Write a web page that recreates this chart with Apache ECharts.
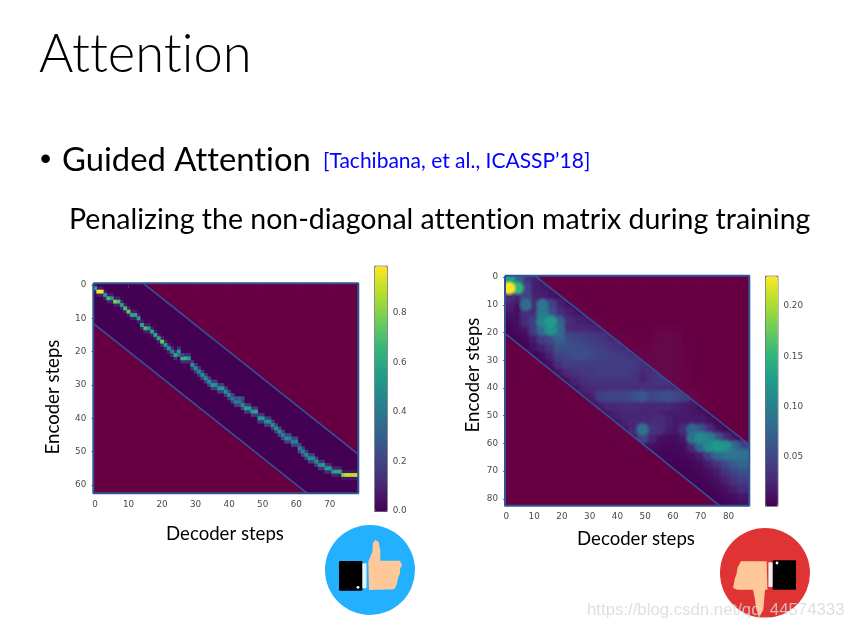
<!DOCTYPE html>
<html><head><meta charset="utf-8">
<style>html,body{margin:0;padding:0;background:#fff}#main{width:853px;height:629px;filter:blur(0.45px)}</style>
<script src="https://cdn.jsdelivr.net/npm/echarts@6/dist/echarts.min.js"></script>
</head><body><div id="main"></div>
<script>
// Slide text has no tt/ti ligatures: switch them off on every canvas context.
const origGetContext = HTMLCanvasElement.prototype.getContext;
HTMLCanvasElement.prototype.getContext = function(type, opts){
  const ctx = origGetContext.call(this, type, opts);
  if (type === '2d' && ctx && 'textRendering' in ctx) ctx.textRendering = 'optimizeSpeed';
  return ctx;
};

// ---------- left matrix: the attention path, one entry per decoder step
const leftDecoderCount = 79, leftEncoderCount = 63;
const leftPathEnc = [1,2,2,3,4,4,5,5,6,7,8,9,9,10,12,13,13,14,15,16,17,18,19,20,21,20,22,22,22,24,25,26,27,28,29,30,30,31,31,32,33,34,35,35,36,37,37,38,38,40,40,41,41,42,43,44,45,46,46,47,47,49,50,51,52,52,53,54,54,55,55,56,56,56,57,57,57,57,57];
const leftPathPeak = [.6,.98,.98,.55,.7,.55,.8,.7,.55,.7,.75,.6,.6,.55,.6,.7,.55,.6,.6,.6,.75,.55,.55,.45,.6,.55,.65,.65,.55,.5,.5,.45,.5,.5,.5,.55,.5,.5,.55,.5,.5,.4,.45,.4,.5,.6,.55,.55,.6,.55,.55,.5,.5,.5,.5,.5,.45,.5,.45,.45,.45,.45,.45,.5,.5,.5,.5,.5,.55,.55,.55,.55,.6,.6,.8,.9,.9,.9,.9];
const leftPathSide = [.06,.08,.08,.08,.08,.08,.08,.08,.08,.08,.08,.08,.08,.08,.08,.08,.08,.08,.08,.08,.1,.1,.1,.12,.12,.12,.12,.12,.12,.14,.16,.16,.18,.18,.18,.18,.18,.18,.18,.18,.18,.2,.2,.2,.2,.18,.18,.16,.16,.16,.16,.18,.18,.18,.18,.2,.2,.2,.2,.2,.2,.2,.2,.18,.18,.18,.18,.16,.14,.14,.12,.1,.1,.08,.06,.05,.05,.05,.05];
const leftExtraCells = [[43,34,.3],[44,34,.22],[42,34,.25],[41,33,.2],[25,21,.4],[26,21,.2]];
const leftColorbarTicks = [0,.2,.4,.6,.8];

// ---------- right matrix: attention read on a 3-by-3 step raster, in thousandths
const rightDecoderCount = 88, rightEncoderCount = 83;
const rightRaster = [
[130,70,34,20,10,8,5],
[232,150,45,20,15,12,8],
[30,22,50,22,20,12,10,8],
[20,10,80,26,90,45,20,10,8],
[12,10,30,30,95,55,30,20,12,10],
[5,10,28,45,105,125,70,30,22,18,12,8],
[2,8,12,40,80,115,80,30,26,26,22,18,10,5,0,0,0,0,14,18,14],
[0,3,5,18,42,50,72,50,46,42,38,34,26,18,10,5,0,10,30,36,30,5],
[0,0,0,10,22,34,58,56,54,50,46,42,34,30,18,10,5,18,36,42,36,8],
[0,0,4,0,8,22,45,50,56,56,50,46,42,38,34,26,20,24,38,42,36,12],
[0,0,6,0,0,10,30,42,42,42,42,42,42,42,42,38,30,30,38,42,36,14],
[0,0,5,0,0,0,12,26,34,38,38,42,42,42,42,34,25,30,38,40,34,16],
[0,0,4,0,0,0,5,10,22,30,34,34,34,34,34,34,20,30,36,34,28,18],
[0,0,2,0,0,0,0,5,10,22,26,30,30,30,30,26,32,32,30,30,25,15,8],
[0,0,0,0,0,0,0,3,5,10,18,42,48,48,48,56,62,48,52,58,48,42,26,8],
[0,0,0,0,0,0,0,0,3,5,10,18,26,26,30,30,26,26,26,26,22,18,14,5],
[0,0,0,0,0,0,0,0,0,3,6,8,14,22,26,26,22,26,22,18,18,18,14,10,4],
[0,0,0,0,0,0,0,0,0,0,3,5,8,14,22,26,26,26,30,22,14,18,18,18,10,4],
[0,0,0,0,0,0,0,0,0,0,0,2,4,8,10,26,85,36,30,18,14,28,75,55,26,10,3],
[0,0,0,0,0,0,0,0,0,0,0,0,2,4,6,10,45,22,10,8,8,14,85,110,95,55,26,10,6,6],
[0,0,0,0,0,0,0,0,0,0,0,0,0,0,2,5,8,8,6,6,6,8,26,75,110,125,115,75,46,46],
[0,0,0,0,0,0,0,0,0,0,0,0,0,0,0,0,2,3,4,4,4,5,10,18,46,75,85,90,85,85],
[0,0,0,0,0,0,0,0,0,0,0,0,0,0,0,0,0,0,0,2,2,3,4,8,18,32,50,65,75,75],
[0,0,0,0,0,0,0,0,0,0,0,0,0,0,0,0,0,0,0,0,0,0,2,4,10,18,32,46,56,56],
[0,0,0,0,0,0,0,0,0,0,0,0,0,0,0,0,0,0,0,0,0,0,0,2,5,10,20,32,42,42],
[0,0,0,0,0,0,0,0,0,0,0,0,0,0,0,0,0,0,0,0,0,0,0,0,2,5,10,18,28,28],
[0,0,0,0,0,0,0,0,0,0,0,0,0,0,0,0,0,0,0,0,0,0,0,0,0,2,5,8,14,14],
[0,0,0,0,0,0,0,0,0,0,0,0,0,0,0,0,0,0,0,0,0,0,0,0,0,0,2,4,8,8]
];
const rightRasterStep = 3;
const rightColorbarTicks = [.05,.1,.15,.2];

// ---------- guide band limits, in decoder/encoder units
const leftMaskPolys = [[[14.4,-.5],[78.5,-.5],[78.5,50.8]],[[-.5,11.5],[-.5,62.5],[63.3,62.5]]];
const rightMaskPolys = [[[10.2,-.5],[87.5,-.5],[87.5,60.5]],[[-.5,20.3],[-.5,82.5],[76.8,82.5]]];

const viridis = ['#440154','#482878','#3e4989','#31688e','#26828e','#1f9e89','#35b779','#6ece58','#b5de2b','#fde725'];
const maroon = '#6c0040', frameBlue = '#2f5597', tickGrey = '#4a4a4a';
const sans = 'Lato, "Open Sans", sans-serif';

const range = n => Array.from({length:n},(_,i)=>String(i));

const leftData = [];
leftPathEnc.forEach((e,d)=>{
  leftData.push([d,e-1,leftPathSide[d]],[d,e+1,leftPathSide[d]]);
});
leftPathEnc.forEach((e,d)=>leftData.push([d,e,leftPathPeak[d]]));
leftExtraCells.forEach(c=>leftData.push(c));

const rightData = [];
rightRaster.forEach((row,r)=>row.forEach((v,c)=>{ if(v>0) rightData.push([c,r,v/1000]); }));
rightData.sort((a,b)=>a[2]-b[2]);

function catAxis(n,gridIndex){
  return {type:'category',gridIndex,data:range(n),boundaryGap:true,
    axisLine:{show:false},splitLine:{show:false},splitArea:{show:false},
    axisTick:{show:true,interval:9,alignWithLabel:true,length:3.5,lineStyle:{color:tickGrey,width:.8}},
    axisLabel:{show:true,interval:9,fontFamily:'DejaVu Sans',fontSize:8.8,color:tickGrey,margin:7}};
}
function hiddenAxis(n,gridIndex){
  return {type:'value',gridIndex,min:-.5,max:n-.5,show:false,splitLine:{show:false}};
}
function maskSeries(polys,xi,yi){
  return {type:'custom',xAxisIndex:xi,yAxisIndex:yi,silent:true,z:5,clip:true,data:polys.map((_,i)=>[i]),
    renderItem:(p,api)=>({type:'polygon',shape:{points:polys[p.dataIndex].map(q=>api.coord(q))},
      style:{fill:maroon,opacity:.86,stroke:null}})};
}
function edgeSeries(a,b,xi,yi){
  return {type:'line',xAxisIndex:xi,yAxisIndex:yi,data:[a,b],showSymbol:false,silent:true,z:6,clip:true,
    lineStyle:{color:frameBlue,width:1.5},animation:false};
}
function frameSeries(nx,ny,xi,yi){
  const a=-.5,bx=nx-.5,by=ny-.5;
  return {type:'line',xAxisIndex:xi,yAxisIndex:yi,data:[[a,a],[bx,a],[bx,by],[a,by],[a,a]],showSymbol:false,silent:true,z:6,clip:false,
    lineStyle:{color:frameBlue,width:2},animation:false};
}
function cbarY(gridIndex,min,max,ticks,fmt){
  return {type:'value',gridIndex,position:'right',min,max,splitLine:{show:false},axisLine:{show:false},
    axisTick:{show:true,length:3.5,customValues:ticks,lineStyle:{color:tickGrey,width:.8}},
    axisLabel:{show:true,customValues:ticks,formatter:fmt,fontFamily:'DejaVu Sans',fontSize:8.8,color:tickGrey,margin:6}};
}
function text(str,x,y,size,extra){
  return {type:'text',silent:true,z:20,x,y,style:Object.assign({text:str,fontFamily:sans,fontSize:size,fill:'#000',textAlign:'left',textVerticalAlign:'middle'},extra||{})};
}
function poly(points,fill){ return {type:'polygon',silent:true,z:10,shape:{points},style:{fill}}; }
function rect(x,y,width,height,fill){ return {type:'rect',silent:true,z:10,shape:{x,y,width,height,r:1},style:{fill}}; }
function circ(cx,cy,r,fill){ return {type:'circle',silent:true,z:10,shape:{cx,cy,r},style:{fill}}; }

const option = {
  animation:false,
  backgroundColor:'#fff',
  grid:[
    {left:93.3,top:283.3,width:265,height:210,show:true,backgroundColor:viridis[0],borderWidth:0},
    {left:505,top:275.7,width:244.3,height:230,show:true,backgroundColor:viridis[0],borderWidth:0},
    {left:374.3,top:265.7,width:12.4,height:245.3},
    {left:765,top:275.7,width:12.4,height:230}
  ],
  xAxis:[catAxis(leftDecoderCount,0),hiddenAxis(leftDecoderCount,0),catAxis(rightDecoderCount,1),hiddenAxis(rightDecoderCount,1),
    {type:'value',gridIndex:2,show:false,min:0,max:1},{type:'value',gridIndex:3,show:false,min:0,max:1}],
  yAxis:[Object.assign(catAxis(leftEncoderCount,0),{inverse:true}),Object.assign(hiddenAxis(leftEncoderCount,0),{inverse:true}),
    Object.assign(catAxis(rightEncoderCount,1),{inverse:true}),Object.assign(hiddenAxis(rightEncoderCount,1),{inverse:true}),
    cbarY(2,0,.992,leftColorbarTicks,v=>v.toFixed(1)),cbarY(3,.0012,.2302,rightColorbarTicks,v=>v.toFixed(2))],
  visualMap:[
    {type:'continuous',seriesIndex:0,min:0,max:.992,dimension:2,left:374.3,top:265.7,itemWidth:12.4,itemHeight:245.3,padding:0,text:null,calculable:false,
      inRange:{color:viridis},borderColor:'#555',borderWidth:1,hoverLink:false},
    {type:'continuous',seriesIndex:1,min:.0012,max:.2302,dimension:2,left:765,top:275.7,itemWidth:12.4,itemHeight:230,padding:0,text:null,calculable:false,
      inRange:{color:viridis},borderColor:'#555',borderWidth:1,hoverLink:false}
  ],
  series:[
    {type:'heatmap',xAxisIndex:0,yAxisIndex:0,data:leftData,z:2,progressive:0,silent:true,itemStyle:{borderWidth:0}},
    {type:'custom',xAxisIndex:3,yAxisIndex:3,data:rightData,z:2,clip:true,silent:true,progressive:0,encode:{x:0,y:1},
      renderItem:(p,api)=>{
        const s=rightRasterStep,c=api.value(0),r=api.value(1);
        const a=api.coord([(c-.5)*s-.5,(r-.5)*s-.5]),b=api.coord([(c+1.5)*s-.5,(r+1.5)*s-.5]);
        const col=api.visual('color');
        const fill=new echarts.graphic.RadialGradient(.5,.5,.5,[
          {offset:0,color:col},{offset:.5,color:col},
          {offset:1,color:echarts.color.modifyAlpha(col,0)}]);
        return {type:'rect',shape:{x:a[0],y:a[1],width:b[0]-a[0],height:b[1]-a[1]},style:{fill}};
      }},
    maskSeries(leftMaskPolys,1,1),
    maskSeries(rightMaskPolys,3,3),
    edgeSeries(leftMaskPolys[0][0],leftMaskPolys[0][2],1,1),
    edgeSeries(leftMaskPolys[1][0],leftMaskPolys[1][2],1,1),
    edgeSeries(rightMaskPolys[0][0],rightMaskPolys[0][2],3,3),
    edgeSeries(rightMaskPolys[1][0],rightMaskPolys[1][2],3,3),
    frameSeries(leftDecoderCount,leftEncoderCount,1,1),
    frameSeries(rightDecoderCount,rightEncoderCount,3,3)
  ],
  graphic:[
    text('Attention',39,55,52.5,{fontWeight:300}),
    text('•',40,160,32,{fontFamily:'Liberation Sans'}),
    text('Guided Attention',62,160,32.8),
    text('[Tachibana, et al., ICASSP’18]',323,161,21,{fill:'#0000ff'}),
    text('Penalizing the non-diagonal attention matrix during training',69,220,28.5),
    Object.assign(text('Encoder steps',53,397,18.6,{textAlign:'center'}),{rotation:Math.PI/2}),
    text('Decoder steps',225,534,18.6,{textAlign:'center'}),
    Object.assign(text('Encoder steps',473,375,18.6,{textAlign:'center'}),{rotation:Math.PI/2}),
    text('Decoder steps',636,539,18.6,{textAlign:'center'}),
    // thumbs up
    circ(370,570,45,'#22b0ff'),
    rect(339,561,23.4,29.7,'#000'),
    rect(362.4,563.3,4.1,25,'#eeeeee'),
    poly([[368.3,561.7],[372.4,551.7],[372.8,543.3],[375.2,540],[378.6,541.7],[380.3,550],[380.3,560.7],[400,560.7],[402,565],[400,569.3],[400,573.3],[398,578.3],[396.6,585],[394.1,589.3],[369,590]],'#ffc898'),
    circ(358,587.3,1.4,'#fff'),
    // thumbs down
    circ(765,573,45,'#e03333'),
    rect(772.6,560.3,23.4,29.4,'#000'),
    rect(768.4,562.3,4.2,24.7,'#eeeeee'),
    poly([[766.7,561.3],[740.9,561.3],[737.4,568],[736.4,574.7],[735,578],[733,588],[737.4,589.7],[753,589.7],[754.7,598],[756.4,609.7],[759.8,616.3],[763.3,609.7],[765,589.7],[767.4,589.7]],'#ffc898'),
    circ(777,563,1.4,'#fff'),
    // watermark
    text('https://blog.csdn.net/qq_44574333',587,610,16.8,{fontFamily:'Liberation Sans',fill:'rgba(215,215,215,.8)'})
  ]
};
echarts.init(document.getElementById('main'),null,{renderer:'canvas'}).setOption(option);
</script>
</body></html>
